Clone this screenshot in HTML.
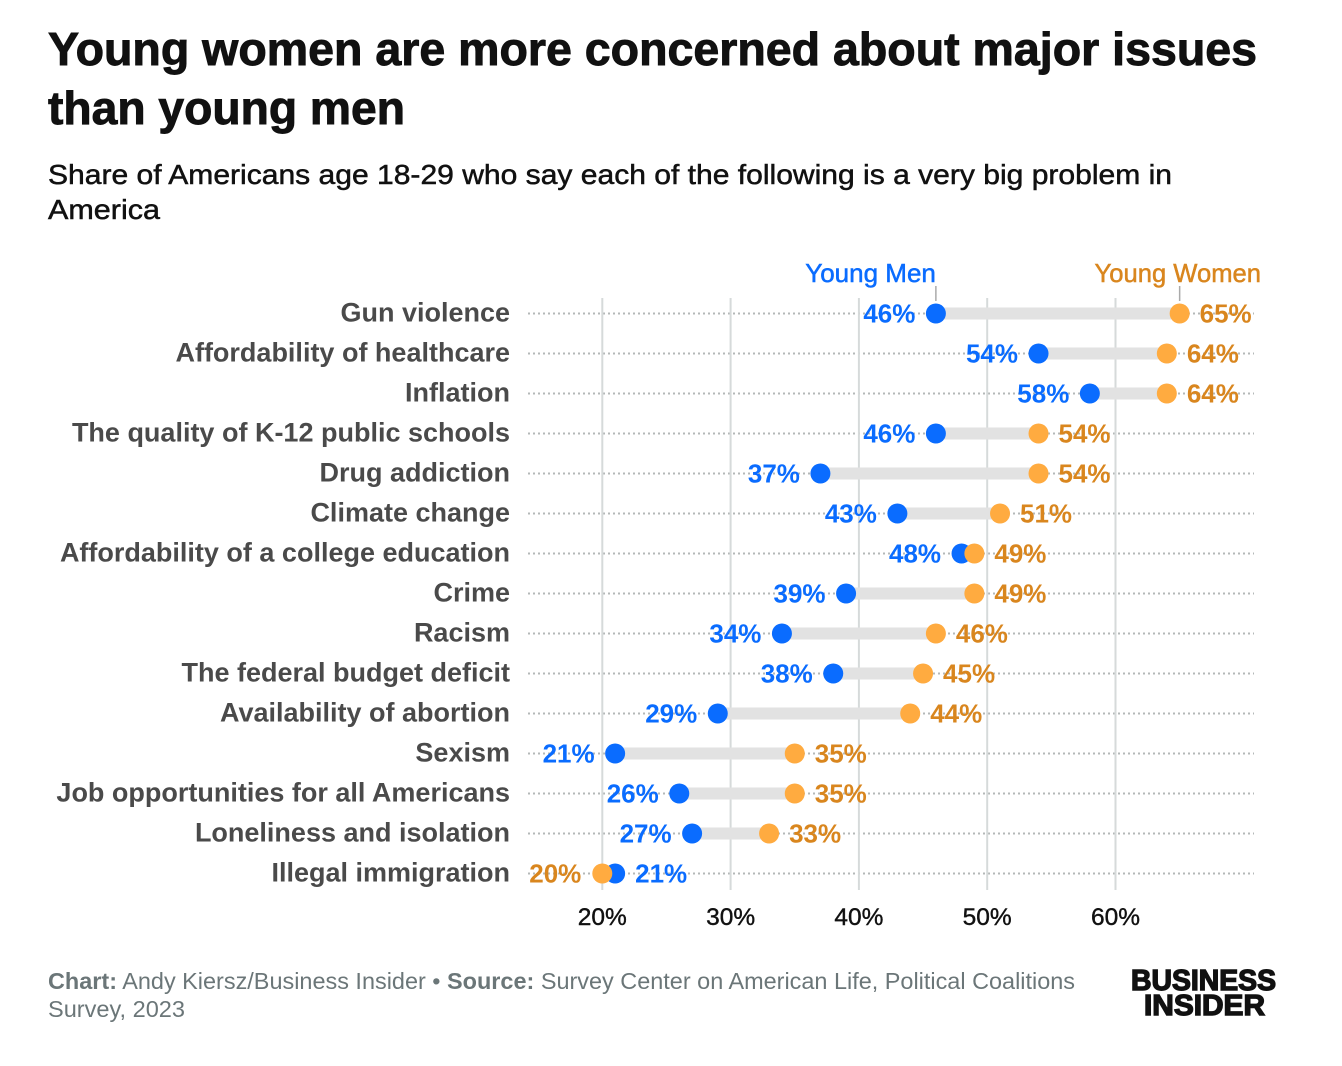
<!DOCTYPE html>
<html lang="en">
<head>
<meta charset="utf-8">
<title>Young women are more concerned about major issues than young men</title>
<style>
html,body{margin:0;padding:0;background:#fff;}
body{width:1342px;height:1066px;overflow:hidden;}
svg{display:block;font-family:"Liberation Sans",sans-serif;}
</style>
</head>
<body>
<svg id="chart" width="1342" height="1066" viewBox="0 0 1342 1066" xmlns="http://www.w3.org/2000/svg">
  <g>
    <text x="48" y="65" font-size="46" font-weight="700" fill="#111" textLength="1209" lengthAdjust="spacingAndGlyphs" stroke="#111" stroke-width="0.9">Young women are more concerned about major issues</text>
    <text x="48" y="124" font-size="46" font-weight="700" fill="#111" textLength="357" lengthAdjust="spacingAndGlyphs" stroke="#111" stroke-width="0.9">than young men</text>
    <text x="48" y="184" font-size="28" fill="#111" textLength="1124" lengthAdjust="spacingAndGlyphs" stroke="#111" stroke-width="0.5">Share of Americans age 18-29 who say each of the following is a very big problem in</text>
    <text x="48" y="219" font-size="28" fill="#111" textLength="112" lengthAdjust="spacingAndGlyphs" stroke="#111" stroke-width="0.5">America</text>
  </g>
  <g id="plot"></g>
  <g fill="#6b7678" font-size="23">
    <text x="48" y="989" textLength="1027" lengthAdjust="spacingAndGlyphs"><tspan font-weight="700">Chart:</tspan> Andy Kiersz/Business Insider • <tspan font-weight="700">Source:</tspan> Survey Center on American Life, Political Coalitions</text>
    <text x="48" y="1017" textLength="137" lengthAdjust="spacingAndGlyphs">Survey, 2023</text>
  </g>
  <g fill="#111" stroke="#111" stroke-width="1.4" font-weight="700" font-size="29">
    <text x="1131" y="990" textLength="145" lengthAdjust="spacingAndGlyphs">BUSINESS</text>
    <text x="1144" y="1015" textLength="121" lengthAdjust="spacingAndGlyphs">INSIDER</text>
  </g>
</svg>
<script>
const categories = ["Gun violence","Affordability of healthcare","Inflation","The quality of K-12 public schools","Drug addiction","Climate change","Affordability of a college education","Crime","Racism","The federal budget deficit","Availability of abortion","Sexism","Job opportunities for all Americans","Loneliness and isolation","Illegal immigration"];
const youngMen = [46,54,58,46,37,43,48,39,34,38,29,21,26,27,21];
const youngWomen = [65,64,64,54,54,51,49,49,46,45,44,35,35,33,20];
const xTicks = [20,30,40,50,60];

const NS = "http://www.w3.org/2000/svg";
const plot = document.getElementById("plot");
const xScale = v => 602.3 + (v - 20) * 12.83;
const yScale = i => 313.5 + i * 40;
const BLUE = "#0a6cff", ORANGE_DOT = "#ffab40", ORANGE_TEXT = "#d9861e";

function make(tag, attrs, text) {
  const el = document.createElementNS(NS, tag);
  for (const k in attrs) el.setAttribute(k, attrs[k]);
  if (text !== undefined) el.textContent = text;
  plot.appendChild(el);
  return el;
}

// row dotted lines
categories.forEach((c, i) => {
  const el = make("line", {x1:528, x2:1254, y1:yScale(i), y2:yScale(i), stroke:"#b4b8b8", "stroke-width":2, "stroke-dasharray":"2 3"});
  
  
});

// vertical gridlines and tick labels
xTicks.forEach(t => {
  const g = make("line", {x1:xScale(t), x2:xScale(t), y1:298, y2:890, stroke:"#d6dada", "stroke-width":2});
  
  
  const l = make("text", {x:xScale(t), y:925, "text-anchor":"middle", "font-size":24.5, fill:"#111", stroke:"#111", "stroke-width":0.4}, t + "%");
  
  
});

// legend labels with leader lines
const menLegend = make("text", {x:xScale(youngMen[0]), y:282, "text-anchor":"end", "font-size":26, fill:BLUE, stroke:BLUE, "stroke-width":0.5}, "Young Men");


const womenLegend = make("text", {x:1261, y:282, "text-anchor":"end", "font-size":25.6, fill:ORANGE_TEXT, stroke:ORANGE_TEXT, "stroke-width":0.5}, "Young Women");


[youngMen[0], youngWomen[0]].forEach(v => {
  const el = make("line", {x1:xScale(v), x2:xScale(v), y1:286, y2:301, stroke:"#aaa", "stroke-width":1.5});
  
  
});

// rows
categories.forEach((c, i) => {
  const y = yScale(i), m = youngMen[i], w = youngWomen[i];
  const label = make("text", {x:510, y:y + 8, "text-anchor":"end", "font-size":27, "font-weight":700, fill:"#4a4a4a"}, c);
  
  

  const bar = make("rect", {x:Math.min(xScale(m), xScale(w)), y:y - 6, width:Math.abs(xScale(w) - xScale(m)), height:12, fill:"#e2e2e2"});
  
  

  const dotM = make("circle", {cx:xScale(m), cy:y, r:10, fill:BLUE});
  
  
  const dotW = make("circle", {cx:xScale(w), cy:y, r:10, fill:ORANGE_DOT});
  
  

  const menLeft = m <= w;
  const valM = make("text", {x:xScale(m) + (menLeft ? -20.5 : 20), y:y + 9, "text-anchor":menLeft ? "end" : "start", "font-size":26, "font-weight":700, fill:BLUE}, m + "%");
  
  
  const valW = make("text", {x:xScale(w) + (menLeft ? 20 : -21), y:y + 9, "text-anchor":menLeft ? "start" : "end", "font-size":26, "font-weight":700, fill:ORANGE_TEXT}, w + "%");
  
  
});
</script>
</body>
</html>
